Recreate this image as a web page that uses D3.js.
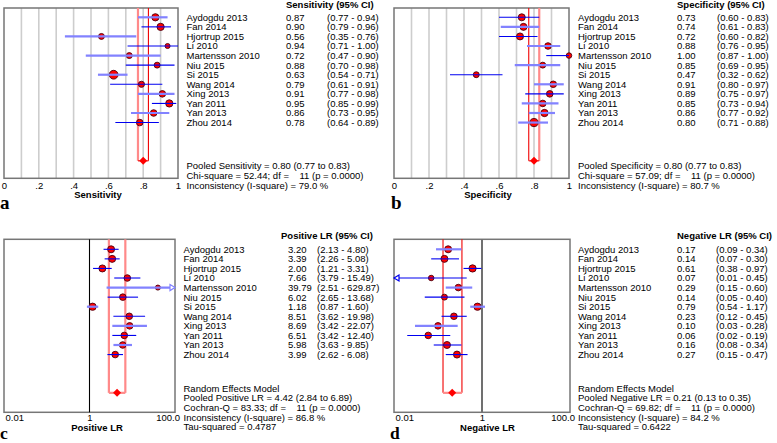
<!DOCTYPE html>
<html><head><meta charset="utf-8">
<script src="https://cdn.jsdelivr.net/npm/d3@7"></script>
<style>
body{margin:0;background:#fff}
svg{display:block}
text{font-family:"Liberation Sans",Arial,Helvetica,sans-serif;white-space:pre;fill:#000}
</style>
</head><body>
<svg id="chart" width="777" height="443"></svg>
<script>
// ---------------- data ----------------
const studies = ["Aydogdu 2013","Fan 2014","Hjortrup 2015","Li 2010","Martensson 2010","Niu 2015","Si 2015","Wang 2014","Xing 2013","Yan 2011","Yan 2013","Zhou 2014"];

const sens   = [0.87,0.90,0.56,0.94,0.72,0.88,0.63,0.79,0.91,0.95,0.86,0.78];
const sensLo = [0.77,0.79,0.35,0.71,0.47,0.70,0.54,0.61,0.77,0.85,0.73,0.64];
const sensHi = [0.94,0.96,0.76,1.00,0.90,0.98,0.71,0.91,0.98,0.99,0.95,0.89];
const sensWeight = [10.9,10.9,7.3,5.3,7.3,7.3,16,7.8,9,10.9,9,9];
const sensPooled = [0.80,0.77,0.83];
const sensStats = ["Pooled Sensitivity = 0.80 (0.77 to 0.83)","Chi-square = 52.44; df =    11 (p = 0.0000)","Inconsistency (I-square) = 79.0 %"];

const spec   = [0.73,0.74,0.72,0.88,1.00,0.85,0.47,0.91,0.89,0.85,0.86,0.80];
const specLo = [0.60,0.61,0.60,0.76,0.87,0.69,0.32,0.80,0.75,0.73,0.77,0.71];
const specHi = [0.83,0.83,0.82,0.95,1.00,0.95,0.62,0.97,0.97,0.94,0.92,0.88];
const specWeight = [10.2,10.2,10.2,9,6.3,7.3,7.3,9,9,9,10.9,13.7];
const specPooled = [0.80,0.77,0.83];
const specStats = ["Pooled Specificity = 0.80 (0.77 to 0.83)","Chi-square = 57.09; df =    11 (p = 0.0000)","Inconsistency (I-square) = 80.7 %"];

const plr   = [3.20,3.39,2.00,7.66,39.79,6.02,1.18,8.51,8.69,6.51,5.98,3.99];
const plrLo = [2.13,2.26,1.21,3.79,2.51,2.65,0.87,3.62,3.42,3.42,3.63,2.62];
const plrHi = [4.80,5.08,3.31,15.49,629.87,13.68,1.60,19.98,22.07,12.40,9.85,6.08];
const plrWeight = [10.2,10.2,10.2,9,5.3,9,10.9,9,9,9,9,9];
const plrPooled = [4.42,2.84,6.89];
const plrStats = ["Random Effects Model","Pooled Positive LR = 4.42 (2.84 to 6.89)","Cochran-Q = 83.33; df =    11 (p = 0.0000)","Inconsistency (I-square) = 86.8 %","Tau-squared = 0.4787"];

const nlr   = [0.17,0.14,0.61,0.07,0.29,0.14,0.79,0.23,0.10,0.06,0.16,0.27];
const nlrLo = [0.09,0.07,0.38,0.01,0.15,0.05,0.54,0.12,0.03,0.02,0.08,0.15];
const nlrHi = [0.34,0.30,0.97,0.45,0.60,0.40,1.17,0.45,0.28,0.19,0.34,0.47];
const nlrWeight = [10.2,10.2,10.9,6.3,9,7.3,10.9,9,9,9,10.2,10.2];
const nlrPooled = [0.21,0.13,0.35];
const nlrStats = ["Random Effects Model","Pooled Negative LR = 0.21 (0.13 to 0.35)","Cochran-Q = 69.82; df =    11 (p = 0.0000)","Inconsistency (I-square) = 84.2 %","Tau-squared = 0.6422"];

const linTicks = [0,0.2,0.4,0.6,0.8,1];
const linTickLabels = ["0",".2",".4",".6",".8","1"];
const logTicks = [0.01,1,100];
const logTickLabels = ["0.01","1","100.0"];

// ---------------- styling (rendering shades of CI lines) ----------------
const shadeA = "LDLDLDLDLDLD", shadeB = "DLDLDLDLDLLL", shadeC = "DDDDLDLDLDLD", shadeD = "LDDDLDLDLDDD";
const PINK = "#ff8a8a", RED = "#f00000";

const svg = d3.select("#chart");
const FS = 9.5, STEP = 9.57;
const rScale = d3.scaleSqrt().domain([0,16]).range([0,4.4]);
const fmt = d3.format(".2f");

function panel(o){
  const g = svg.append("g");
  const x = (o.log ? d3.scaleLog() : d3.scaleLinear()).domain(o.domain).range([o.x0,o.x1]);
  const y = d3.scaleLinear().domain([0,15]).range([o.row0, o.row0 + 15*STEP]);
  const n = o.est.length;

  if(!o.log){
    g.selectAll(".grid").data(d3.range(1,10).map(d=>d/10)).join("line")
      .attr("x1",d=>x(d)).attr("x2",d=>x(d)).attr("y1",o.top).attr("y2",o.bottom)
      .attr("stroke","#cdcdcd").attr("stroke-width",1.6);
  }
  g.append("rect").attr("x",o.x0).attr("y",o.top).attr("width",o.x1-o.x0).attr("height",o.bottom-o.top)
    .attr("fill","none").attr("stroke","#767676").attr("stroke-width",1.5);
  if(o.log){
    g.append("line").attr("x1",x(1)).attr("x2",x(1)).attr("y1",o.top).attr("y2",o.bottom)
      .attr("stroke",o.refColor).attr("stroke-width",o.refWidth);
  }
  const [pe,pl,ph] = o.pooled;
  const st = c => c==="P" ? {c:PINK,w:2.2} : {c:RED,w:1.1};
  [[pl,o.pool[0]],[ph,o.pool[1]]].forEach(([v,s])=>{
    g.append("line").attr("x1",x(v)).attr("x2",x(v)).attr("y1",o.top).attr("y2",y(15))
      .attr("stroke",st(s).c).attr("stroke-width",st(s).w);
  });
  g.append("line").attr("x1",x(pl)).attr("x2",x(ph)).attr("y1",y(15)).attr("y2",y(15))
    .attr("stroke",st(o.pool[2]).c).attr("stroke-width",st(o.pool[2]).w);
  g.append("path").attr("d",`M${x(pe)-4},${y(15)} L${x(pe)},${y(15)-4} L${x(pe)+4},${y(15)} L${x(pe)},${y(15)+4}Z`)
    .attr("fill","#ff0000");

  const idx = d3.range(n);
  g.selectAll(".mk").data(idx).join("circle")
    .attr("cx",i=>x(o.est[i])).attr("cy",i=>y(i)).attr("r",i=>rScale(o.w[i]))
    .attr("fill","#ff0000").attr("stroke","#4a0010").attr("stroke-width",0.9);
  const [dmin,dmax] = o.domain;
  g.selectAll(".ci").data(idx).join("line")
    .attr("x1",i=>x(Math.max(o.lo[i],dmin))).attr("x2",i=>x(Math.min(o.hi[i],dmax)))
    .attr("y1",i=>y(i)).attr("y2",i=>y(i))
    .attr("stroke",i=>o.shade[i]==="L"?"#8282ff":"#0000f0")
    .attr("stroke-width",i=>o.shade[i]==="L"?2.2:1.1);
  if(o.log){
    idx.forEach(i=>{
      const col = o.shade[i]==="L"?"#8282ff":"#0000f0";
      if(o.hi[i] > dmax){
        const xe = x(dmax);
        g.append("path").attr("d",`M${xe-5},${y(i)-3} L${xe},${y(i)} L${xe-5},${y(i)+3}Z`)
          .attr("fill","#fff").attr("stroke",col).attr("stroke-width",1.2);
      }
      if(o.lo[i] <= dmin){
        const xs = x(dmin);
        g.append("path").attr("d",`M${xs+5},${y(i)-3} L${xs},${y(i)} L${xs+5},${y(i)+3}Z`)
          .attr("fill","#fff").attr("stroke",col).attr("stroke-width",1.2);
      }
    });
  }

  const ax = d3.axisBottom(x).tickValues(o.ticks).tickSize(0).tickPadding(o.tickPad)
    .tickFormat((d,i)=>o.tickLabels[i]);
  const axg = g.append("g").attr("transform",`translate(0,${o.bottom})`).call(ax);
  axg.select(".domain").remove();
  axg.selectAll("text").attr("font-size",FS).style("font-family",'"Liberation Sans",Arial,sans-serif').attr("fill","#000");
  if(o.log){
    axg.selectAll("text").attr("text-anchor",(d,i)=> i===0?"start":(i===o.ticks.length-1?"end":"middle"))
      .attr("dx",(d,i)=> i===0?1:(i===o.ticks.length-1?4.5:0));
  }
  g.append("text").attr("x",o.titleX).attr("y",o.titleY).attr("text-anchor","middle")
    .attr("font-size",FS).attr("font-weight","bold").text(o.title);
  g.append("text").attr("x",o.letterX).attr("y",o.letterY)
    .style("font-family",'"Liberation Serif","Times New Roman",serif')
    .attr("font-size",o.letterSize).attr("font-weight","bold").text(o.letter);

  g.append("text").attr("x",o.headX).attr("y",o.headY).attr("font-size",FS).attr("font-weight","bold").text(o.header);
  const tb = 3.4;
  g.selectAll(".nm").data(idx).join("text").attr("x",o.namesX).attr("y",i=>y(i)+tb)
    .attr("font-size",FS).text(i=>studies[i]);
  g.selectAll(".vl").data(idx).join("text").attr("x",o.valX).attr("y",i=>y(i)+tb)
    .attr("font-size",FS).text(i=>fmt(o.est[i]));
  g.selectAll(".cl").data(idx).join("text").attr("x",o.ciX).attr("y",i=>y(i)+tb)
    .attr("font-size",FS).text(i=>`(${fmt(o.lo[i])} - ${fmt(o.hi[i])})`);
  g.selectAll(".ft").data(o.stats).join("text").attr("x",o.namesX).attr("y",(d,i)=>o.footY[i]+tb)
    .attr("font-size",FS).text(d=>d);
}

panel({log:false,domain:[0,1],x0:4,x1:178,top:8,bottom:178.3,row0:17.3,
  est:sens,lo:sensLo,hi:sensHi,w:sensWeight,pooled:sensPooled,stats:sensStats,
  shade:shadeA,pool:["P","R","R"],ticks:linTicks,tickLabels:linTickLabels,tickPad:3.7,
  title:"Sensitivity",titleX:98,titleY:198.4,letter:"a",letterX:0,letterY:209,letterSize:19,
  header:"Sensitivity (95% CI)",headX:286,headY:7.8,namesX:186.5,valX:286,ciX:327,
  footY:[166,175.7,185.3]});

panel({log:false,domain:[0,1],x0:394,x1:569,top:8,bottom:178.3,row0:17.3,
  est:spec,lo:specLo,hi:specHi,w:specWeight,pooled:specPooled,stats:specStats,
  shade:shadeB,pool:["R","P","R"],ticks:linTicks,tickLabels:linTickLabels,tickPad:3.7,
  title:"Specificity",titleX:488,titleY:198.4,letter:"b",letterX:391,letterY:208.5,letterSize:19,
  header:"Specificity (95% CI)",headX:677,headY:7.8,namesX:578,valX:677,ciX:717,
  footY:[166,175.7,185.3]});

panel({log:true,domain:[0.01,100],x0:4,x1:175,top:239.3,bottom:412.3,row0:249.3,
  est:plr,lo:plrLo,hi:plrHi,w:plrWeight,pooled:plrPooled,stats:plrStats,refColor:"#000",refWidth:1.1,
  shade:shadeC,pool:["P","P","P"],ticks:logTicks,tickLabels:logTickLabels,tickPad:2.4,
  title:"Positive LR",titleX:97,titleY:431,letter:"c",letterX:0,letterY:438.8,letterSize:17.5,
  header:"Positive LR (95% CI)",headX:281,headY:238.5,namesX:183.5,valX:288,ciX:317,
  footY:[388.3,397.9,407.5,417.1,426.7]});

panel({log:true,domain:[0.01,100],x0:394,x1:570,top:239.3,bottom:412.3,row0:249.3,
  est:nlr,lo:nlrLo,hi:nlrHi,w:nlrWeight,pooled:nlrPooled,stats:nlrStats,refColor:"#707070",refWidth:2,
  shade:shadeD,pool:["R","R","P"],ticks:logTicks,tickLabels:logTickLabels,tickPad:2.4,
  title:"Negative LR",titleX:487.5,titleY:431,letter:"d",letterX:390,letterY:438.8,letterSize:17.5,
  header:"Negative LR (95% CI)",headX:677,headY:238.5,namesX:578,valX:677,ciX:716,
  footY:[388.3,397.9,407.5,417.1,426.7]});
</script>
</body></html>
